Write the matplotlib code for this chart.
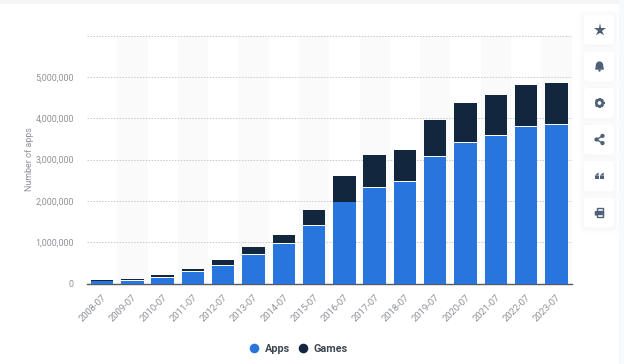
import numpy as np
import matplotlib
matplotlib.use("Agg")
import matplotlib.pyplot as plt
from matplotlib.patches import FancyBboxPatch, Circle, Rectangle, Polygon, Wedge

plt.rcParams['font.family'] = ['Roboto', 'DejaVu Sans']

years = ['2008-07', '2009-07', '2010-07', '2011-07', '2012-07', '2013-07', '2014-07', '2015-07',
         '2016-07', '2017-07', '2018-07', '2019-07', '2020-07', '2021-07', '2022-07', '2023-07']
apps = [50000, 70000, 140000, 285000, 430000, 700000, 955000, 1400000,
        1960000, 2320000, 2450000, 3060000, 3400000, 3580000, 3790000, 3830000]
games = [35000, 40000, 60000, 65000, 140000, 175000, 210000, 380000,
         630000, 790000, 790000, 900000, 960000, 970000, 1020000, 1010000]
yticks = [0, 1000000, 2000000, 3000000, 4000000, 5000000, 6000000]

W, H = 624, 364
fig = plt.figure(figsize=(W / 100, H / 100), dpi=100, facecolor='white')

# page background, white card on top
bg = fig.add_axes([0, 0, 1, 1], zorder=0)
bg.set_xlim(0, W)
bg.set_ylim(H, 0)
bg.axis('off')
bg.add_patch(Rectangle((0, 0), W, 3.5, color='#f4f5f7', lw=0))
bg.add_patch(Rectangle((619, 0), 5, H, color='#f8f9fa', lw=0))

ax = fig.add_axes([87 / W, 1 - 283.5 / H, 484.5 / W, (283.5 - 35.5) / H], zorder=1)
ax.patch.set_alpha(0)
x = np.arange(len(years))
for i in x[1::2]:
    ax.axvspan(i - 0.5, i + 0.5, color='#fafafa', lw=0, zorder=0)
ax.bar(x, apps, width=0.74, color='#2875dd', zorder=3)
# thin white gap between the two segments, total height stays apps + games
gap = 20000
ax.bar(x, np.array(games) - gap, width=0.74, bottom=np.array(apps) + gap, color='#12273e', zorder=3)

ax.set_xlim(-0.5, 15.5)
ax.set_ylim(0, 6000000)
ax.set_yticks(yticks)
ax.set_yticklabels(['0', '1,000,000', '2,000,000', '3,000,000', '4,000,000', '5,000,000', ''],
                   fontsize=6.4, color='#8f9298')
ax.set_xticks(x)
ax.set_xticklabels(years, rotation=45, ha='right', rotation_mode='anchor', fontsize=6.8, color='#8f9298')
ax.tick_params(length=0)
ax.tick_params(axis='y', pad=9.4)
ax.tick_params(axis='x', pad=6.5)
ax.grid(axis='y', color='#c9c9c9', lw=0.7, ls=(0, (1.5, 1.5)), zorder=1)
ax.set_axisbelow(True)
for s in ['top', 'right', 'left']:
    ax.spines[s].set_visible(False)
ax.spines['bottom'].set_color('#555b63')
ax.spines['bottom'].set_linewidth(1)
ax.set_ylabel('Number of apps', fontsize=6.4, color='#8f9298')
ax.yaxis.set_label_coords((34.5 - 87) / 484.5, (283.5 - 159) / 248)

# overlay in pixel coordinates for legend and side buttons
ov = fig.add_axes([0, 0, 1, 1], zorder=2)
ov.set_xlim(0, W)
ov.set_ylim(H, 0)
ov.axis('off')
ov.patch.set_alpha(0)

ov.add_patch(Circle((254.5, 348.5), 4.8, color='#2875dd', lw=0))
ov.text(265, 348.5, 'Apps', fontsize=7.8, fontweight='bold', color='#3f4650', va='center')
ov.add_patch(Circle((303.5, 348.5), 4.8, color='#12273e', lw=0))
ov.text(314, 348.5, 'Games', fontsize=7.8, fontweight='bold', color='#3f4650', va='center')

icon = '#4f6078'
centers = [29.5, 66.5, 103, 139.5, 176, 212.5]
for cy in centers:
    for grow, a in [(5, 0.006), (3, 0.008), (1.5, 0.01)]:
        ov.add_patch(FancyBboxPatch((584 - grow, cy - 15 - grow + 1), 30 + 2 * grow, 30 + 2 * grow,
                                    boxstyle='round,pad=0,rounding_size=3', fc='black', alpha=a, lw=0))
    ov.add_patch(FancyBboxPatch((584, cy - 15), 30, 30, boxstyle='round,pad=0,rounding_size=3',
                                fc='white', lw=0))
cx = 599.5
# star
ov.plot([cx], [centers[0]], marker='*', ms=9.5, color=icon, mew=0)
# bell
cy = centers[1]
ov.add_patch(Wedge((cx, cy - 1.5), 3.6, 180, 360, color=icon, lw=0))
ov.add_patch(Polygon([(cx - 3.6, cy - 1.7), (cx + 3.6, cy - 1.7), (cx + 4.4, cy + 3.2), (cx - 4.4, cy + 3.2)],
                     color=icon, lw=0))
ov.add_patch(Circle((cx, cy + 4), 1.2, color=icon, lw=0))
# gear
cy = centers[2]
ov.add_patch(Circle((cx, cy), 3.2, fc='white', ec=icon, lw=1.9))
for a in np.arange(0, 360, 45):
    r = np.deg2rad(a)
    ov.plot([cx + 3.6 * np.cos(r), cx + 5 * np.cos(r)], [cy + 3.6 * np.sin(r), cy + 5 * np.sin(r)],
            color=icon, lw=1.7, solid_capstyle='butt')
# share
cy = centers[3]
ov.plot([cx + 3, cx - 3, cx + 3], [cy - 3.6, cy, cy + 3.6], color=icon, lw=1)
for px, py in [(cx + 3, cy - 3.6), (cx - 3, cy), (cx + 3, cy + 3.6)]:
    ov.add_patch(Circle((px, py), 2.1, color=icon, lw=0))
# quote
cy = centers[4]
for px in [cx - 2.9, cx + 2.2]:
    ov.add_patch(Rectangle((px - 2, cy - 0.5), 4, 3.7, color=icon, lw=0))
    ov.add_patch(Polygon([(px - 2, cy - 0.3), (px + 1.6, cy - 3.4), (px + 2, cy - 3.4), (px + 2, cy - 0.3)],
                         color=icon, lw=0))
# printer
cy = centers[5]
ov.add_patch(Rectangle((cx - 3, cy - 4.5), 6, 3, fc='white', ec=icon, lw=1))
ov.add_patch(FancyBboxPatch((cx - 4.8, cy - 1.5), 9.6, 4.6, boxstyle='round,pad=0,rounding_size=1', fc=icon, lw=0))
ov.add_patch(Rectangle((cx - 3, cy + 1), 6, 3.4, fc='white', ec=icon, lw=1))

fig.savefig('out.png', dpi=100)
